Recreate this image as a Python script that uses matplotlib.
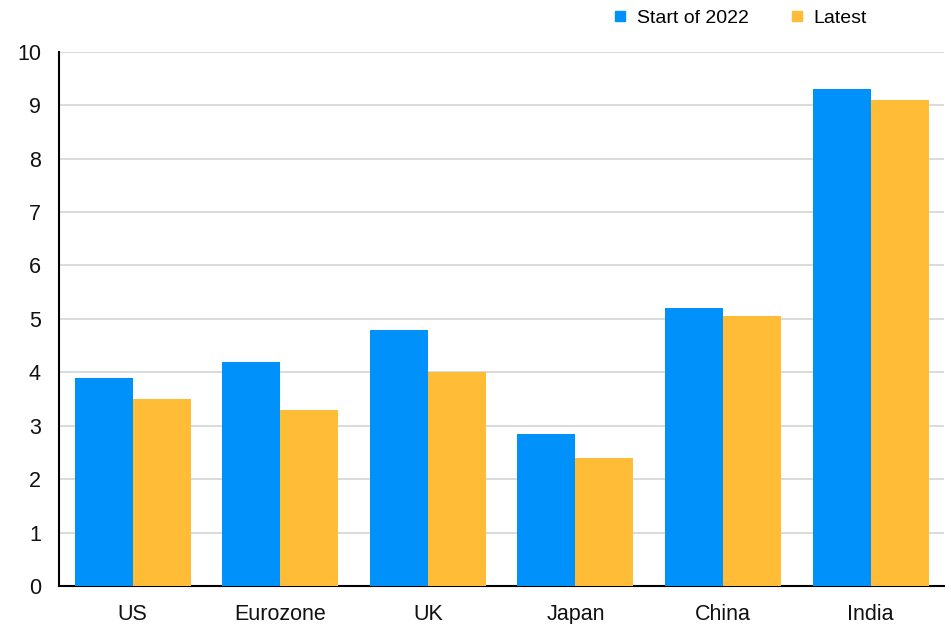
import numpy as np
import matplotlib
matplotlib.use("Agg")
import matplotlib.pyplot as plt
from matplotlib.lines import Line2D

plt.rcParams['font.family'] = ['Liberation Sans', 'DejaVu Sans']

# Data
categories = ["US", "Eurozone", "UK", "Japan", "China", "India"]
start_2022 = [3.9, 4.2, 4.8, 2.85, 5.2, 9.3]
latest = [3.5, 3.3, 4.0, 2.4, 5.05, 9.1]
yticks = list(range(0, 11))

BLUE = "#0091FA"
YELLOW = "#FFBC37"

fig = plt.figure(figsize=(9.51, 6.24), dpi=100)
ax = fig.add_axes([0.062, 0.061, 0.931, 0.856])

x = np.arange(len(categories))
w = 0.393
ax.bar(x - w / 2, start_2022, width=w, color=BLUE, zorder=3)
ax.bar(x + w / 2, latest, width=w, color=YELLOW, zorder=3)

ax.set_xlim(-0.5, len(categories) - 0.5)
ax.set_ylim(0, 10)
ax.set_yticks(yticks)
ax.set_xticks(x)
ax.set_xticklabels(categories)
ax.tick_params(axis='both', length=0, labelsize=15.5, colors='#111111')
ax.tick_params(axis='y', pad=13)
ax.tick_params(axis='x', pad=13)
ax.grid(axis='y', color='#d4d4d4', linewidth=1.2, zorder=0)

for s in ['top', 'right']:
    ax.spines[s].set_visible(False)
for s in ['left', 'bottom']:
    ax.spines[s].set_color('black')
    ax.spines[s].set_linewidth(1.5)

handles = [
    Line2D([], [], marker='s', linestyle='none', color=BLUE, markersize=7),
    Line2D([], [], marker='s', linestyle='none', color=YELLOW, markersize=7),
]
fig.legend(handles, ["Start of 2022", "Latest"], loc='center',
           bbox_to_anchor=(0.777, 0.971), ncol=2, frameon=False,
           fontsize=14, handletextpad=0.35, columnspacing=2.0,
           handlelength=1.0)

fig.savefig("out.png", dpi=100)
